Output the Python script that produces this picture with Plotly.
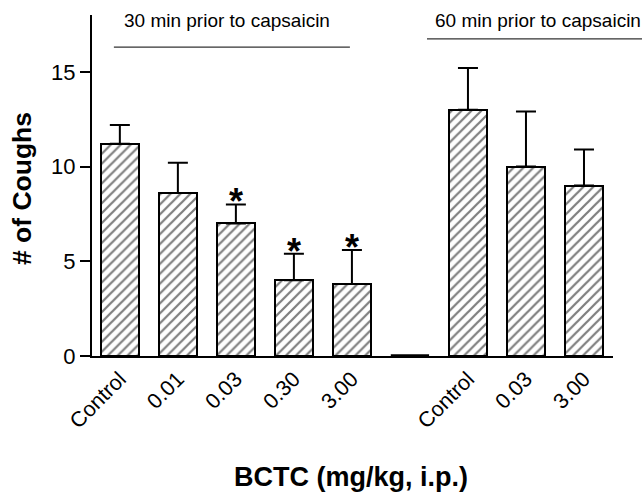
import plotly.graph_objects as go

# ---- data ----
labels_30 = ["Control", "0.01", "0.03", "0.30", "3.00"]
means_30 = [11.2, 8.6, 7.0, 4.0, 3.8]
sem_30 = [1.0, 1.6, 1.0, 1.4, 1.8]
signif_30 = [False, False, True, True, True]

labels_60 = ["Control", "0.03", "3.00"]
means_60 = [13.0, 10.0, 9.0]
sem_60 = [2.2, 2.9, 1.9]
signif_60 = [False, False, False]

y_ticks = [0, 5, 10, 15]

# combine with a blank slot between groups
labels = labels_30 + [""] + labels_60
means = means_30 + [None] + means_60
sems = sem_30 + [None] + sem_60
signif = signif_30 + [False] + signif_60
xpos = list(range(len(labels)))
gap_pos = len(labels_30)

FONT = "Liberation Sans, Arial, sans-serif"
BAR_W = 0.66

fig = go.Figure()
fig.add_trace(go.Bar(
    x=xpos, y=means, width=BAR_W,
    marker=dict(color="white", line=dict(color="black", width=2),
                pattern=dict(shape="/", fgcolor="black", bgcolor="white",
                             size=7, solidity=0.32)),
    error_y=dict(type="data", array=sems, arrayminus=[0] * len(sems),
                 symmetric=False, color="black", thickness=2, width=10),
    showlegend=False, hoverinfo="skip",
))

# asterisks for significance
for x, m, s, sig in zip(xpos, means, sems, signif):
    if sig:
        fig.add_annotation(x=x, y=m + s, xref="x", yref="y", text="<b>*</b>",
                           showarrow=False, xanchor="center", yanchor="bottom",
                           yshift=-20,
                           font=dict(family=FONT, size=36, color="black"))

# zero-height outline in the gap
fig.add_shape(type="line", xref="x", yref="y",
              x0=gap_pos - BAR_W / 2, x1=gap_pos + BAR_W / 2, y0=0, y1=0,
              line=dict(color="black", width=3.5))

# group headers
fig.add_annotation(x=0.259, y=0.985, xref="paper", yref="paper",
                   xanchor="center", yanchor="middle",
                   text="30 min prior to capsaicin", showarrow=False,
                   font=dict(family=FONT, size=19, color="black"))
fig.add_shape(type="line", xref="paper", yref="paper",
              x0=0.042, x1=0.495, y0=0.906, y1=0.906,
              line=dict(color="#333", width=1.2))
fig.add_annotation(x=0.856, y=0.985, xref="paper", yref="paper",
                   xanchor="center", yanchor="middle",
                   text="60 min prior to capsaicin", showarrow=False,
                   font=dict(family=FONT, size=19, color="black"))
fig.add_shape(type="line", xref="paper", yref="paper",
              x0=0.643, x1=1.06, y0=0.930, y1=0.930,
              line=dict(color="#333", width=1.2))

# axis titles
fig.add_annotation(x=-0.134, y=0.49, xref="paper", yref="paper",
                   xanchor="center", yanchor="middle",
                   text="<b># of Coughs</b>", textangle=-90, showarrow=False,
                   font=dict(family=FONT, size=26.5, color="black"))
fig.add_annotation(x=0.497, y=-0.355, xref="paper", yref="paper",
                   xanchor="center", yanchor="middle",
                   text="<b>BCTC (mg/kg, i.p.)</b>", showarrow=False,
                   font=dict(family=FONT, size=27, color="black"))

fig.update_layout(
    width=642, height=496,
    margin=dict(l=92, r=29, t=15, b=140),
    plot_bgcolor="white", paper_bgcolor="white",
    font=dict(family=FONT, color="black"),
    bargap=0,
)
fig.update_xaxes(
    range=[-0.48, 8.5], tickmode="array", tickvals=xpos, ticktext=labels,
    tickangle=-45, tickfont=dict(size=21.5), ticks="", showgrid=False,
    zeroline=False, showline=True, linecolor="black", linewidth=2,
)
fig.update_yaxes(
    range=[0, 18], tickmode="array", tickvals=y_ticks,
    tickfont=dict(size=22), ticks="outside", ticklen=10, tickwidth=2,
    tickcolor="black", showgrid=False, zeroline=False, showline=True,
    linecolor="black", linewidth=2,
)

fig.write_html("out.html", config={"displayModeBar": False},
               post_script="document.body.style.margin='0';")
